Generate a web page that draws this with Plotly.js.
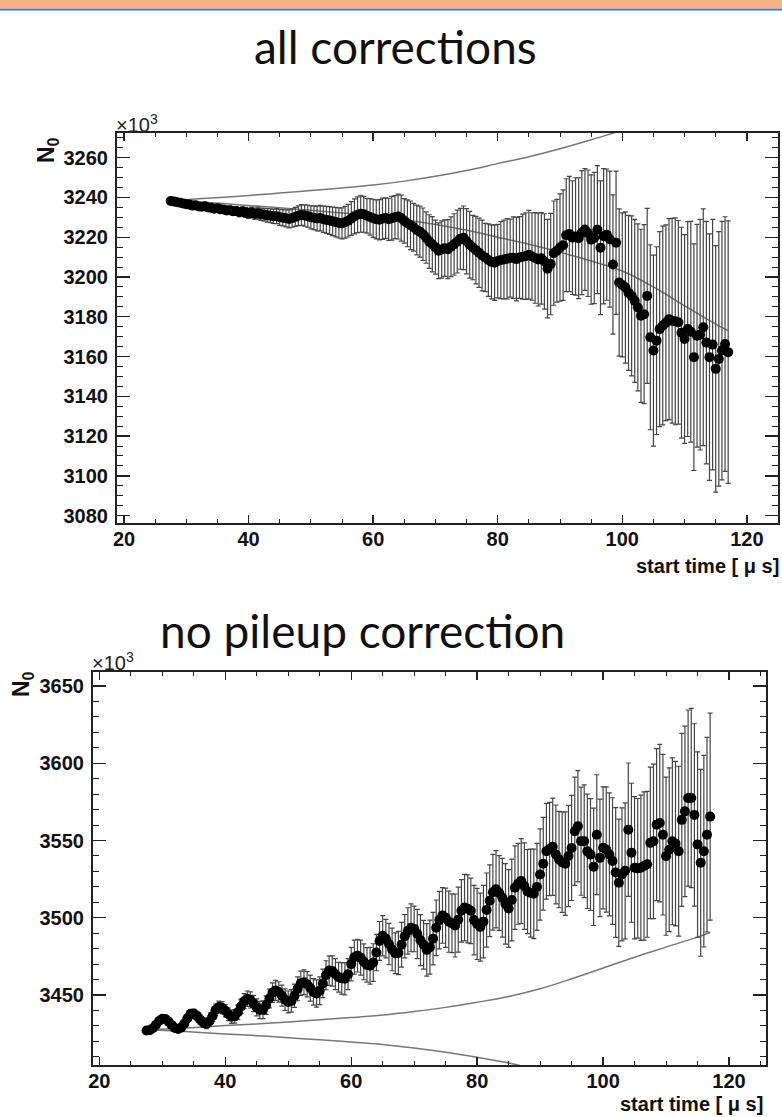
<!DOCTYPE html>
<html>
<head>
<meta charset="utf-8">
<script src="https://cdn.plot.ly/plotly-3.0.1.min.js"></script>
<style>
  html, body { margin: 0; padding: 0; background: #ffffff; }
  #chart { width: 782px; height: 1117px; }
</style>
</head>
<body>
<div id="chart"></div>
<script>
// ---------- data ----------
const startTime = [
  27.5,28,28.5,29,29.5,30,30.5,31,31.5,32,
  32.5,33,33.5,34,34.5,35,35.5,36,36.5,37,
  37.5,38,38.5,39,39.5,40,40.5,41,41.5,42,
  42.5,43,43.5,44,44.5,45,45.5,46,46.5,47,
  47.5,48,48.5,49,49.5,50,50.5,51,51.5,52,
  52.5,53,53.5,54,54.5,55,55.5,56,56.5,57,
  57.5,58,58.5,59,59.5,60,60.5,61,61.5,62,
  62.5,63,63.5,64,64.5,65,65.5,66,66.5,67,
  67.5,68,68.5,69,69.5,70,70.5,71,71.5,72,
  72.5,73,73.5,74,74.5,75,75.5,76,76.5,77,
  77.5,78,78.5,79,79.5,80,80.5,81,81.5,82,
  82.5,83,83.5,84,84.5,85,85.5,86,86.5,87,
  87.5,88,88.5,89,89.5,90,90.5,91,91.5,92,
  92.5,93,93.5,94,94.5,95,95.5,96,96.5,97,
  97.5,98,98.5,99,99.5,100,100.5,101,101.5,102,
  102.5,103,103.5,104,104.5,105,105.5,106,106.5,107,
  107.5,108,108.5,109,109.5,110,110.5,111,111.5,112,
  112.5,113,113.5,114,114.5,115,115.5,116,116.5,117
];

// all corrections: N0 [x10^3]
const n0AllCorr = [
  3238.2,3238.0,3237.6,3237.3,3237.0,3236.6,3236.4,3235.9,3236.1,3235.5,
  3235.3,3235.6,3234.9,3234.8,3234.3,3234.6,3234.0,3233.9,3233.4,3233.6,
  3233.1,3233.2,3232.6,3232.9,3232.5,3232.0,3232.4,3231.8,3232.1,3231.5,
  3231.3,3231.0,3230.8,3230.5,3230.6,3230.0,3229.8,3229.5,3229.2,3229.6,
  3230.2,3230.8,3231.2,3230.9,3230.6,3230.0,3229.8,3229.4,3229.6,3229.0,
  3228.7,3228.4,3228.0,3227.6,3227.2,3227.0,3227.5,3228.3,3229.4,3230.5,
  3231.3,3231.8,3231.5,3230.8,3230.2,3229.5,3229.0,3228.8,3229.3,3229.6,
  3229.0,3229.5,3230.1,3230.4,3229.6,3228.2,3227.0,3226.0,3225.0,3223.6,
  3222.8,3221.5,3219.8,3217.8,3216.5,3215.0,3213.2,3213.8,3214.5,3214.0,
  3215.2,3216.4,3217.8,3219.2,3219.7,3218.0,3216.2,3214.8,3213.5,3212.2,
  3210.8,3209.8,3208.5,3207.6,3207.2,3208.0,3208.5,3208.8,3209.2,3209.5,
  3209.7,3209.0,3209.8,3210.2,3210.5,3211.2,3210.3,3209.6,3208.8,3209.4,
  3207.8,3204.2,3206.5,3212.0,3213.2,3214.8,3216.0,3221.0,3221.6,3219.8,
  3220.4,3219.5,3222.3,3223.9,3222.0,3218.8,3219.6,3223.8,3214.7,3220.5,
  3221.3,3219.0,3206.3,3217.2,3197.2,3196.0,3194.7,3192.0,3190.5,3188.0,
  3184.7,3180.5,3181.3,3190.5,3169.7,3163.0,3168.0,3173.8,3175.6,3177.0,
  3178.8,3178.0,3177.7,3177.2,3172.0,3168.8,3173.8,3172.5,3159.7,3170.5,
  3171.0,3174.7,3167.0,3159.7,3166.0,3153.8,3158.8,3163.0,3166.3,3162.2
];
const errAllCorr = [
  0.8,0.8,0.9,0.9,1.0,1.0,1.1,1.1,1.2,1.2,
  1.3,1.4,1.4,1.5,1.6,1.7,1.8,1.8,1.9,2.0,
  2.1,2.2,2.3,2.4,2.5,2.6,2.7,2.8,3.0,3.1,
  3.2,3.4,3.5,3.6,3.8,4.0,4.1,4.3,4.5,4.6,
  4.8,5.0,5.2,5.4,5.6,5.8,6.0,6.2,6.4,6.6,
  6.8,7.0,7.2,7.4,7.6,7.8,8.0,8.2,8.5,8.8,
  9.0,9.3,9.0,8.7,9.2,9.6,9.8,10.1,10.4,10.2,
  10.6,11.0,10.8,11.3,11.6,11.2,11.8,12.2,12.0,12.5,
  12.8,13.2,12.9,13.5,13.9,13.6,14.0,14.4,14.2,14.8,
  15.0,15.4,15.8,15.3,16.0,16.4,16.8,16.2,17.0,17.4,
  17.8,17.2,18.2,18.6,19.0,18.5,19.4,19.8,20.2,19.6,
  20.5,21.0,20.6,21.4,21.8,22.3,22.0,22.8,23.4,23.0,
  24.0,24.8,25.5,26.2,25.8,27.0,27.8,28.4,29.0,28.6,
  29.5,30.4,31.2,30.6,31.8,32.5,33.0,32.2,33.6,34.0,
  33.0,34.2,35.0,36.0,37.0,36.2,38.0,39.0,40.2,41.0,
  42.0,43.5,45.0,44.0,46.5,48.0,47.2,49.0,50.0,49.2,
  50.5,51.5,52.0,51.2,53.0,52.5,54.0,55.5,57.0,56.0,
  58.0,59.5,61.0,62.0,63.0,62.0,64.0,65.0,64.0,66.0
];

// no pileup correction: N0 [x10^3]
const n0NoPileup = [
  3427.0,3427.2,3428.5,3430.8,3433.2,3434.6,3434.5,3432.8,3430.5,3428.6,
  3428.0,3428.9,3431.5,3435.0,3437.8,3438.0,3436.5,3434.2,3432.2,3431.5,
  3433.0,3436.5,3440.5,3442.3,3441.8,3439.8,3437.5,3436.0,3436.2,3438.8,
  3442.6,3446.0,3447.6,3446.8,3444.5,3442.0,3440.3,3440.5,3443.5,3447.8,
  3451.5,3453.0,3452.0,3449.6,3447.0,3445.5,3446.2,3449.5,3454.0,3457.6,
  3458.3,3457.0,3454.5,3452.0,3451.0,3452.8,3457.5,3462.8,3465.8,3465.5,
  3463.5,3461.5,3460.8,3460.5,3463.5,3470.0,3474.5,3475.5,3474.2,3471.5,
  3469.5,3469.0,3471.0,3477.5,3485.0,3488.4,3486.5,3483.0,3479.5,3477.0,
  3477.2,3482.5,3488.0,3491.5,3493.5,3492.8,3489.5,3485.5,3482.5,3479.2,
  3481.0,3486.5,3493.5,3498.5,3501.5,3500.0,3497.5,3496.5,3495.0,3498.8,
  3504.5,3506.6,3505.8,3504.5,3498.5,3496.0,3494.0,3497.5,3505.0,3511.0,
  3516.5,3518.5,3516.0,3513.0,3509.0,3506.0,3511.5,3519.5,3522.0,3523.8,
  3520.5,3517.0,3516.0,3515.5,3520.0,3528.0,3535.0,3543.1,3544.5,3546.0,
  3541.0,3537.7,3536.0,3535.0,3540.0,3545.2,3556.0,3559.2,3549.6,3549.5,
  3543.0,3540.9,3533.0,3553.8,3538.8,3545.3,3544.2,3541.0,3536.7,3529.3,
  3522.7,3528.1,3530.4,3557.0,3542.1,3532.4,3532.0,3532.4,3533.5,3534.6,
  3548.5,3549.5,3560.3,3561.3,3553.8,3539.9,3544.0,3549.5,3548.0,3543.1,
  3563.4,3568.9,3577.5,3577.5,3566.6,3547.4,3535.6,3543.1,3553.8,3565.5
];
const errNoPileup = [
  1.2,1.3,1.4,1.5,1.6,1.7,1.8,1.9,2.0,2.1,
  2.2,2.3,2.4,2.5,2.6,2.8,2.9,3.0,3.1,3.2,
  3.3,3.5,3.6,3.7,3.9,4.0,4.1,4.3,4.4,4.6,
  4.7,4.9,5.0,5.2,5.3,5.5,5.6,5.8,6.0,6.1,
  6.3,6.5,6.6,6.8,7.0,7.1,7.3,7.5,7.7,7.9,
  8.0,8.2,8.4,8.6,8.8,9.0,9.2,9.4,9.6,9.8,
  10.0,9.6,10.2,10.5,10.0,10.8,11.0,10.6,11.3,11.6,
  11.2,11.9,12.2,11.8,12.6,13.0,12.5,13.4,13.8,13.2,
  14.0,14.5,14.0,15.0,15.5,14.8,16.0,16.5,15.8,17.0,
  17.5,17.0,18.0,18.6,18.0,19.2,19.8,19.0,20.4,21.0,
  20.2,21.5,22.0,21.2,22.5,23.0,22.0,23.5,24.0,23.2,
  24.5,25.0,24.2,25.5,26.0,25.2,26.5,27.0,26.2,27.5,
  28.0,27.2,28.5,29.0,28.2,29.5,30.0,31.0,30.2,31.5,
  32.0,31.2,32.5,33.5,32.8,34.0,35.0,36.0,35.0,36.5,
  37.0,36.2,38.0,38.8,38.0,39.5,40.5,39.8,41.0,42.0,
  41.2,43.0,44.0,43.2,45.0,46.0,45.2,47.0,48.0,47.2,
  49.0,50.0,49.2,51.0,52.0,51.2,53.0,54.0,53.2,55.0,
  56.0,55.2,57.0,58.0,59.0,60.0,60.5,62.0,63.0,67.0
];

// allowed-deviation band curves
const bandTime = [28,32,36,40,45,50,55,60,65,70,75,80,85,90,95,100,105,110,115,117];
const bandUpperAll = [3238.5,3239.3,3240.1,3241.0,3242.2,3243.5,3244.8,3246.3,3248.2,3250.6,3253.5,3257.0,3260.5,3264.5,3269.0,3274.0,3282.0,3292.0,3301.0,3304.0];
const bandLowerAll = [3238.5,3237.7,3236.9,3236.0,3234.8,3233.5,3232.2,3230.7,3228.8,3226.4,3223.5,3220.0,3216.5,3212.5,3208.0,3203.0,3195.0,3185.5,3176.3,3173.0];
const bandUpperNoPU = [3427.5,3428.3,3429.2,3430.2,3431.3,3432.6,3434.0,3435.4,3437.0,3439.3,3442.0,3445.3,3449.0,3454.0,3460.5,3467.5,3474.5,3481.0,3487.5,3490.5];
const bandLowerNoPU = [3427.5,3426.7,3425.8,3424.8,3423.7,3422.4,3421.0,3419.6,3418.0,3415.7,3413.0,3409.7,3406.0,3401.0,3394.5,3387.5,3380.0,3372.0,3364.0,3361.0];

const titles = ['all corrections', 'no pileup correction'];
const xTitle = 'start time [ \u03bc s]';
const yTitle = 'N<sub>0</sub>';
const scaleLabel = '\u00d710<sup>3</sup>';

// ---------- chart ----------
const W = 782, H = 1117;
const px = v => v / W;
const py = v => 1 - v / H;

const dataTrace = (y, e, xa, ya) => ({
  x: startTime, y: y, xaxis: xa, yaxis: ya,
  type: 'scatter', mode: 'markers',
  marker: { color: '#000000', size: 10, symbol: 'circle' },
  error_y: { type: 'data', array: e, visible: true, color: '#444444', thickness: 1.2, width: 2.5 },
  hoverinfo: 'x+y', showlegend: false
});
const bandTrace = (y, xa, ya) => ({
  x: bandTime, y: y, xaxis: xa, yaxis: ya,
  type: 'scatter', mode: 'lines',
  line: { color: '#777777', width: 1.5, shape: 'spline' },
  hoverinfo: 'skip', showlegend: false
});

const traces = [
  bandTrace(bandUpperAll, 'x', 'y'),
  bandTrace(bandLowerAll, 'x', 'y'),
  dataTrace(n0AllCorr, errAllCorr, 'x', 'y'),
  bandTrace(bandUpperNoPU, 'x2', 'y2'),
  bandTrace(bandLowerNoPU, 'x2', 'y2'),
  dataTrace(n0NoPileup, errNoPileup, 'x2', 'y2')
];

const tickFont = { family: 'Liberation Sans, Arial, sans-serif', size: 20, color: '#111111', weight: 'bold' };
const axisBase = {
  showgrid: false, zeroline: false, showline: true, linecolor: '#222222', linewidth: 2,
  mirror: 'ticks', ticks: 'inside', tickcolor: '#222222', tickwidth: 1.3,
  tickfont: tickFont, fixedrange: true
};
const xAxis = (domain, range, anchor) => Object.assign({}, axisBase, {
  domain: domain, range: range, anchor: anchor, dtick: 20, tick0: 0, ticklen: 8,
  ticklabelstandoff: -3,
  minor: { dtick: 5, ticks: 'inside', ticklen: 4, tickcolor: '#222222', tickwidth: 1 }
});
const yAxis = (domain, range, anchor, dt, mdt) => Object.assign({}, axisBase, {
  domain: domain, range: range, anchor: anchor, dtick: dt, tick0: 0, ticklen: 13, tickformat: 'd',
  ticklabelstandoff: 3,
  minor: { dtick: mdt, ticks: 'inside', ticklen: 6, tickcolor: '#222222', tickwidth: 1 }
});

const layout = {
  width: W, height: H, autosize: false,
  margin: { l: 0, r: 0, t: 0, b: 0, pad: 0 },
  paper_bgcolor: '#ffffff', plot_bgcolor: '#ffffff',
  showlegend: false,
  xaxis: xAxis([px(117), px(778)], [18.876, 125.0], 'y'),
  yaxis: yAxis([py(523), py(133)], [3076.3, 3272.4], 'x', 20, 5),
  xaxis2: xAxis([px(93), px(766)], [19.0, 125.87], 'y2'),
  yaxis2: yAxis([py(1065), py(672)], [3404.7, 3659.1], 'x2', 50, 10),
  shapes: [
    { type: 'rect', xref: 'paper', yref: 'paper', x0: 0, x1: 1, y0: py(8), y1: 1,
      fillcolor: '#F4B183', line: { width: 0 } },
    { type: 'line', xref: 'paper', yref: 'paper', x0: 0, x1: 1, y0: py(9.5), y1: py(9.5),
      line: { color: '#4472C4', width: 2 } }
  ],
  annotations: [
    { text: titles[0], xref: 'paper', yref: 'paper', x: px(395), y: py(47), xanchor: 'center', yanchor: 'middle',
      showarrow: false, font: { family: 'Lato, Open Sans, sans-serif', size: 46, color: '#111111' } },
    { text: titles[1], xref: 'paper', yref: 'paper', x: px(362), y: py(630), xanchor: 'center', yanchor: 'middle',
      showarrow: false, font: { family: 'Lato, Open Sans, sans-serif', size: 46, color: '#111111' } },
    { text: scaleLabel, xref: 'paper', yref: 'paper', x: px(114), y: py(123), xanchor: 'left', yanchor: 'middle',
      showarrow: false, font: { family: 'Liberation Sans, Arial, sans-serif', size: 20, color: '#222222' } },
    { text: scaleLabel, xref: 'paper', yref: 'paper', x: px(90), y: py(661), xanchor: 'left', yanchor: 'middle',
      showarrow: false, font: { family: 'Liberation Sans, Arial, sans-serif', size: 20, color: '#222222' } },
    { text: yTitle, xref: 'paper', yref: 'paper', x: px(48), y: py(150), xanchor: 'center', yanchor: 'middle',
      textangle: -90, showarrow: false, font: { family: 'Liberation Sans, Arial, sans-serif', size: 23, color: '#111111', weight: 'bold' } },
    { text: yTitle, xref: 'paper', yref: 'paper', x: px(22), y: py(684), xanchor: 'center', yanchor: 'middle',
      textangle: -90, showarrow: false, font: { family: 'Liberation Sans, Arial, sans-serif', size: 23, color: '#111111', weight: 'bold' } },
    { text: xTitle, xref: 'paper', yref: 'paper', x: px(781), y: py(566), xanchor: 'right', yanchor: 'middle',
      showarrow: false, font: { family: 'Liberation Sans, Arial, sans-serif', size: 20, color: '#111111', weight: 'bold' } },
    { text: xTitle, xref: 'paper', yref: 'paper', x: px(765), y: py(1104), xanchor: 'right', yanchor: 'middle',
      showarrow: false, font: { family: 'Liberation Sans, Arial, sans-serif', size: 20, color: '#111111', weight: 'bold' } }
  ]
};

Plotly.newPlot('chart', traces, layout, { staticPlot: true, displayModeBar: false });
</script>
</body>
</html>
